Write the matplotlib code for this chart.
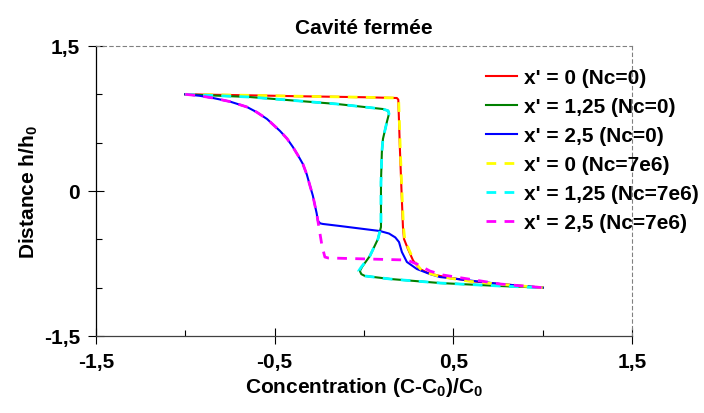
import matplotlib
matplotlib.use("Agg")
import matplotlib.pyplot as plt
from matplotlib.ticker import FixedLocator

plt.rcParams['font.family'] = ['Liberation Sans', 'DejaVu Sans']
plt.rcParams['font.weight'] = 'bold'
plt.rcParams['mathtext.fontset'] = 'custom'
plt.rcParams['mathtext.rm'] = 'Liberation Sans'
plt.rcParams['mathtext.bf'] = 'Liberation Sans:bold'

# x' = 0 (Nc=0)
red_x = [-1.0, -0.65, -0.358, 0.0, 0.184, 0.192, 0.201, 0.210, 0.218, 0.224, 0.246, 0.275, 0.313, 0.36, 0.425, 0.593, 0.761, 1.0]
red_y = [1.0, 0.99, 0.98, 0.97, 0.962, 0.945, 0.434, 0.0, -0.372, -0.497, -0.60, -0.72, -0.807, -0.85, -0.879, -0.931, -0.962, -1.0]

# x' = 1,25 (Nc=0)
green_x = [-1.0, -0.638, -0.151, 0.106, 0.135, 0.140, 0.128, 0.106, 0.100, 0.095, 0.095, 0.078, 0.033, -0.011, -0.023, -0.015, 0.005, 0.145, 0.425, 0.761, 1.0]
green_y = [1.0, 0.972, 0.90, 0.848, 0.83, 0.80, 0.714, 0.538, 0.403, 0.093, -0.372, -0.497, -0.672, -0.786, -0.828, -0.86, -0.879, -0.910, -0.952, -0.983, -1.0]

# x' = 2,5 (Nc=0)
blue_x = [-1.0, -0.92, -0.845, -0.75, -0.655, -0.60, -0.543, -0.470, -0.43, -0.398, -0.37, -0.342, -0.32, -0.302, -0.286, -0.274, -0.265, -0.258, -0.245, -0.230, -0.135, 0.089, 0.140, 0.175, 0.196, 0.212, 0.240, 0.296, 0.369, 0.425, 0.761, 1.0]
blue_y = [1.0, 0.985, 0.962, 0.925, 0.869, 0.815, 0.745, 0.621, 0.54, 0.455, 0.37, 0.279, 0.17, 0.052, -0.05, -0.155, -0.23, -0.31, -0.335, -0.341, -0.362, -0.414, -0.440, -0.480, -0.528, -0.631, -0.734, -0.807, -0.859, -0.890, -0.962, -1.0]

# x' = 0 (Nc=7e6)
yellow_x = [-1.0, -0.65, -0.358, 0.0, 0.186, 0.194, 0.203, 0.212, 0.221, 0.228, 0.250, 0.279, 0.316, 0.36, 0.425, 0.593, 0.761, 1.0]
yellow_y = [1.0, 0.99, 0.98, 0.97, 0.962, 0.945, 0.434, 0.0, -0.372, -0.497, -0.60, -0.72, -0.807, -0.85, -0.885, -0.935, -0.965, -1.0]

# x' = 1,25 (Nc=7e6)
cyan_x = [-1.0, -0.638, -0.151, 0.106, 0.135, 0.140, 0.128, 0.106, 0.100, 0.095, 0.095, 0.078, 0.033, -0.015, -0.030, -0.020, 0.005, 0.145, 0.425, 0.761, 1.0]
cyan_y = [1.0, 0.972, 0.90, 0.848, 0.83, 0.80, 0.714, 0.538, 0.403, 0.093, -0.372, -0.497, -0.672, -0.786, -0.828, -0.86, -0.879, -0.910, -0.952, -0.983, -1.0]

# x' = 2,5 (Nc=7e6)
magenta_x = [-1.0, -0.92, -0.845, -0.75, -0.655, -0.60, -0.543, -0.470, -0.43, -0.398, -0.37, -0.342, -0.32, -0.302, -0.286, -0.274, -0.265, -0.258, -0.235, -0.219, -0.200, -0.151, 0.240, 0.296, 0.369, 0.442, 0.761, 1.0]
magenta_y = [1.0, 0.985, 0.962, 0.925, 0.869, 0.815, 0.745, 0.621, 0.54, 0.455, 0.37, 0.279, 0.17, 0.052, -0.05, -0.155, -0.23, -0.31, -0.569, -0.683, -0.693, -0.695, -0.714, -0.755, -0.828, -0.869, -0.962, -1.0]

labels = ["x' = 0 (Nc=0)", "x' = 1,25 (Nc=0)", "x' = 2,5 (Nc=0)",
          "x' = 0 (Nc=7e6)", "x' = 1,25 (Nc=7e6)", "x' = 2,5 (Nc=7e6)"]

x_major = [-1.5, -0.5, 0.5, 1.5]
x_major_labels = ["-1,5", "-0,5", "0,5", "1,5"]
x_minor = [-1.0, 0.0, 1.0]
y_major = [-1.5, 0.0, 1.5]
y_major_labels = ["-1,5", "0", "1,5"]
y_minor = [-1.0, -0.5, 0.5, 1.0]

fig = plt.figure(figsize=(7.04, 4.14), dpi=100)
ax = fig.add_axes([96 / 704, 1 - 337 / 414, 536 / 704, 290 / 414])

ax.plot(red_x, red_y, color='#ff0000', lw=1.5, label=labels[0])
ax.plot(green_x, green_y, color='#008000', lw=1.5, label=labels[1])
ax.plot(blue_x, blue_y, color='#0000ff', lw=1.5, label=labels[2])
ax.plot(yellow_x, yellow_y, color='#ffff00', lw=2, dashes=(3.5, 3), label=labels[3])
ax.plot(cyan_x, cyan_y, color='#00ffff', lw=2, dashes=(3.5, 3), label=labels[4])
ax.plot(magenta_x, magenta_y, color='#ff00ff', lw=2, dashes=(3.5, 3), label=labels[5])

ax.set_xlim(-1.5, 1.5)
ax.set_ylim(-1.5, 1.5)

ax.xaxis.set_major_locator(FixedLocator(x_major))
ax.set_xticklabels(x_major_labels)
ax.xaxis.set_minor_locator(FixedLocator(x_minor))
ax.yaxis.set_major_locator(FixedLocator(y_major))
ax.set_yticklabels(y_major_labels)
ax.yaxis.set_minor_locator(FixedLocator(y_minor))

ax.tick_params(which='major', direction='inout', length=11, width=0.8, labelsize=15, pad=6)
ax.tick_params(which='minor', direction='in', length=4, width=0.8)

for side in ['top', 'right']:
    ax.spines[side].set_color('#808080')
    ax.spines[side].set_linestyle((0, (3, 3)))
    ax.spines[side].set_linewidth(0.8)
ax.spines['left'].set_linewidth(0.9)
ax.spines['bottom'].set_linewidth(0.9)
ax.spines['bottom'].set_color('#404040')

ax.set_title("Cavité fermée", fontsize=15, fontweight='bold', pad=9)
ax.set_xlabel(r"Concentration (C-C$_\mathbf{0}$)/C$_\mathbf{0}$", fontsize=15, fontweight='bold', labelpad=3)
ax.set_ylabel(r"Distance h/h$_\mathbf{0}$", fontsize=15, fontweight='bold', labelpad=3)

fig.legend(loc='upper left', bbox_to_anchor=(486 / 704, 1 - 69 / 414), frameon=False,
           fontsize=15, handlelength=1.5, handletextpad=0.3, labelspacing=0.48,
           borderaxespad=0, borderpad=0)

fig.savefig("out.png", dpi=100)
